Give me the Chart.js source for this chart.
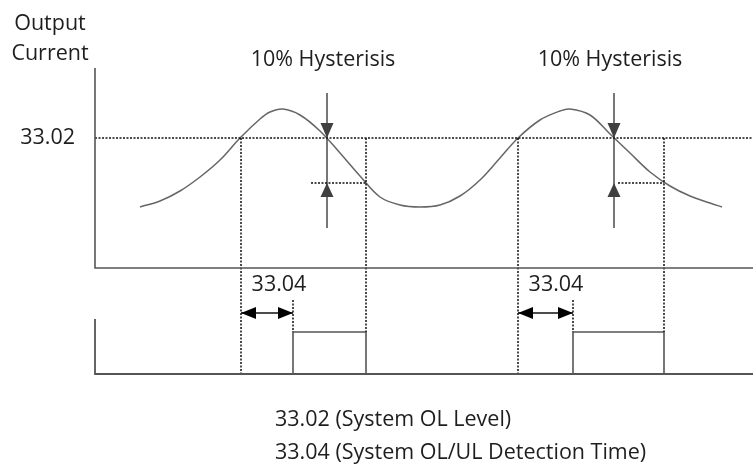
<!DOCTYPE html>
<html>
<head>
<meta charset="utf-8">
<script src="https://cdn.jsdelivr.net/npm/chart.js@4.4.0/dist/chart.umd.min.js"></script>
<style>
  html, body { margin: 0; padding: 0; background: #ffffff; }
  #wrap { width: 753px; height: 464px; }
</style>
</head>
<body>
<div id="wrap"><canvas id="c" width="753" height="464"></canvas></div>
<script>
// ---- Data (time units along x, signal units along y) ----
const curveTime    = [45, 65, 85, 105, 125, 145, 165, 175, 188, 205, 225, 245, 265, 285, 305, 325, 345, 365, 385, 405, 423, 445, 465, 475, 495, 515, 535, 555, 575, 595, 615, 627];
const curveCurrent = [167, 173, 183, 197, 214, 236, 255, 262, 265, 259, 243, 221, 198, 177, 169, 167, 169, 178, 194, 216, 236, 254, 263, 265, 259, 240, 221, 202, 188, 178, 171, 167];

const olLevel    = 236;          // 33.02 System OL Level
const hystLevel  = 191;          // OL level minus 10% hysteresis
const riseCross  = [146, 423];   // current rises above OL level
const fallCross  = [232, 519];   // current falls below OL level
const hystCross  = [271, 569];   // current falls below hysteresis level -> output off
const outputOn   = [198, 478];   // output on after 33.04 detection time
const hystMarkStart = [216, 523];
const outputHigh = 42;

const timeMax = 658;
const topPanel = { base: 106, top: 306 };
const lowPanel = { base: 0, top: 55 };
const delayArrowLevel = 61;
const delayMarkTop = 74;
const hystBarRange = [146, 281];

const yLabel = ['Output', 'Current'];
const levelTick = '33.02';
const delayTick = '33.04';
const hystText = '10% Hysterisis';
const notes = ['33.02 (System OL Level)', '33.04 (System OL/UL Detection Time)'];

// ---- Build datasets ----
const datasets = [];
function seg(points, color, width, dash) {
  datasets.push({
    data: points.map(p => ({ x: p[0], y: p[1] })),
    showLine: true, borderColor: color, borderWidth: width,
    borderDash: dash || [], pointRadius: 0, pointHoverRadius: 0,
    tension: 0, clip: false, fill: false
  });
}
const AX = '#555555';
const DOT = '#111111';
const DASH = [2, 1.5];

// axes
seg([[0, topPanel.top], [0, topPanel.base], [timeMax, topPanel.base]], AX, 1.6);
seg([[0, lowPanel.top], [0, lowPanel.base], [timeMax, lowPanel.base]], AX, 1.8);

// OL level dotted line
seg([[0, olLevel], [timeMax, olLevel]], DOT, 1.5, DASH);

for (let i = 0; i < riseCross.length; i++) {
  seg([[riseCross[i], olLevel], [riseCross[i], lowPanel.base]], DOT, 1.5, DASH);
  seg([[hystCross[i], olLevel], [hystCross[i], outputHigh]], DOT, 1.5, DASH);
  seg([[outputOn[i], delayMarkTop], [outputOn[i], outputHigh]], DOT, 1.5, DASH);
  seg([[hystMarkStart[i], hystLevel], [hystCross[i], hystLevel]], DOT, 1.5, DASH);
  seg([[fallCross[i], hystBarRange[0]], [fallCross[i], hystBarRange[1]]], '#4a4a4a', 1.5);
  // output pulse
  seg([[outputOn[i], lowPanel.base], [outputOn[i], outputHigh], [hystCross[i], outputHigh], [hystCross[i], lowPanel.base]], '#555555', 1.6);
  // delay arrow shaft
  seg([[riseCross[i], delayArrowLevel], [outputOn[i], delayArrowLevel]], '#111111', 1.3);
}

// current curve
datasets.push({
  data: curveTime.map((t, i) => ({ x: t, y: curveCurrent[i] })),
  showLine: true, borderColor: '#666666', borderWidth: 1.5,
  pointRadius: 0, pointHoverRadius: 0, tension: 0.35,
  clip: false, fill: false
});

const FONT = '21.5px "Open Sans", Lato, sans-serif';
const TXT = '#1e1e1e';

const annot = {
  id: 'annot',
  afterDatasetsDraw(chart) {
    const { ctx } = chart;
    const xs = chart.scales.x, ys = chart.scales.y;
    const X = v => xs.getPixelForValue(v), Y = v => ys.getPixelForValue(v);
    ctx.save();
    function tri(tx, ty, dir, len, half, color) {
      ctx.fillStyle = color;
      ctx.beginPath();
      ctx.moveTo(tx, ty);
      if (dir === 'down') { ctx.lineTo(tx - half, ty - len); ctx.lineTo(tx + half, ty - len); }
      if (dir === 'up')   { ctx.lineTo(tx - half, ty + len); ctx.lineTo(tx + half, ty + len); }
      if (dir === 'left') { ctx.lineTo(tx + len, ty - half); ctx.lineTo(tx + len, ty + half); }
      if (dir === 'right'){ ctx.lineTo(tx - len, ty - half); ctx.lineTo(tx - len, ty + half); }
      ctx.closePath();
      ctx.fill();
    }
    for (let i = 0; i < fallCross.length; i++) {
      tri(X(fallCross[i]), Y(olLevel), 'down', 15, 6.5, '#404040');
      tri(X(fallCross[i]), Y(hystLevel), 'up', 14, 6.5, '#404040');
      tri(X(riseCross[i]), Y(delayArrowLevel), 'left', 15, 6, '#000');
      tri(X(outputOn[i]), Y(delayArrowLevel), 'right', 15, 6, '#000');
    }
    ctx.fillStyle = TXT;
    ctx.font = FONT;
    ctx.textBaseline = 'middle';
    ctx.textAlign = 'center';
    ctx.fillText(yLabel[0], X(-45), Y(350));
    ctx.fillText(yLabel[1], X(-45), Y(320));
    ctx.textAlign = 'right';
    ctx.fillText(levelTick, X(-20), Y(olLevel));
    ctx.textAlign = 'center';
    for (let i = 0; i < fallCross.length; i++) {
      ctx.fillText(hystText, X(fallCross[i] - 4), Y(314));
      ctx.fillText(delayTick, X(riseCross[i] + 38), Y(89));
    }
    ctx.textAlign = 'left';
    ctx.fillText(notes[0], X(180), Y(-46));
    ctx.fillText(notes[1], X(180), Y(-79));
    ctx.restore();
  }
};

new Chart(document.getElementById('c'), {
  type: 'scatter',
  data: { datasets },
  options: {
    responsive: false,
    animation: false,
    events: [],
    layout: { padding: { left: 95, right: 0, top: 68, bottom: 90 } },
    plugins: { legend: { display: false }, tooltip: { enabled: false } },
    scales: {
      x: { type: 'linear', min: 0, max: timeMax, display: false },
      y: { type: 'linear', min: 0, max: 306, display: false }
    }
  },
  plugins: [annot]
});
</script>
</body>
</html>
